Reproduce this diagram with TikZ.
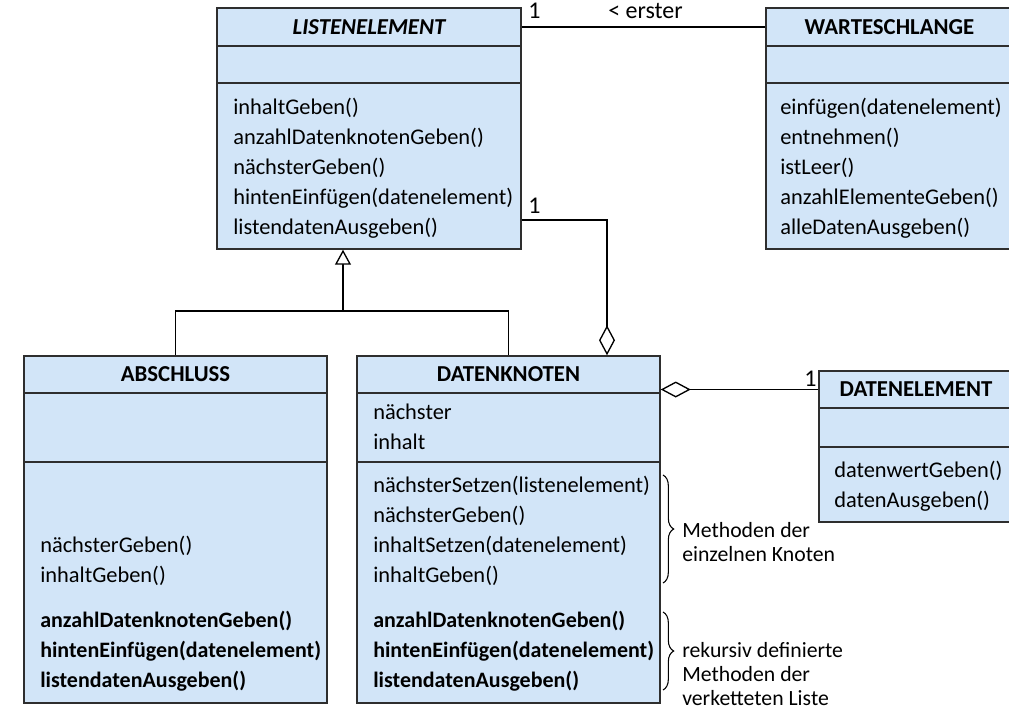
\documentclass[tikz,border=0pt]{standalone}
\usepackage{fontspec}
\setmainfont{Carlito}
\usetikzlibrary{arrows.meta,fit,decorations.pathreplacing}

% One UML class: name, left, right, top, first rule, second rule, bottom, title
\newcommand{\umlKlasse}[8]{%
  \node[classpart, fit={(#2,#4) (#3,#5)}] (#1-head) {};
  \node[classpart, fit={(#2,#5) (#3,#6)}] (#1-attr) {};
  \node[classpart, fit={(#2,#6) (#3,#7)}] (#1-meth) {};
  \node[classtitle] (#1-title) at (#1-head.center) {#8};
}

\begin{document}
\begin{tikzpicture}[x=0.75pt,y=-0.75pt,font=\fontsize{16.8}{22}\selectfont]

\definecolor{umlfill}{HTML}{D2E5F8}
\definecolor{umlline}{HTML}{2E2E2E}

\tikzset{
  classpart/.style={
    draw=umlline, fill=umlfill, line width=1.1pt, inner sep=0pt
  },
  classtitle/.style={font=\fontsize{17.1}{22}\selectfont\bfseries, inner sep=0pt},
  member/.style={anchor=base west, inner sep=0pt},
  boldmember/.style={member, font=\fontsize{16.5}{22}\selectfont\bfseries},
  notetext/.style={member, font=\fontsize{16.3}{22}\selectfont},
  multiplicity/.style={member, font=\fontsize{18}{22}\selectfont},
  assoc/.style={draw=black, line width=1pt},
  aggregation/.style={
    assoc, {Diamond[open, fill=white, length=22.5pt, width=12pt]}-
  },
  generalization/.style={
    assoc, -{Triangle[open, fill=white, length=11.25pt, width=12pt]}
  },
  klammer/.style={
    draw=black, line width=0.8pt, decorate,
    decoration={brace, amplitude=8pt}
  }
}

\useasboundingbox (0,0) rectangle (1009,711);

% Classes.
\umlKlasse{listenel}{217}{521}{8}{46}{83}{249}{\itshape LISTENELEMENT}
\umlKlasse{schlange}{766}{1013}{8}{46}{83}{249}{WARTESCHLANGE}
\umlKlasse{abschluss}{24}{327}{356}{393}{462}{703}{ABSCHLUSS}
\umlKlasse{knoten}{357}{660}{356}{393}{462}{703}{DATENKNOTEN}
\umlKlasse{datenel}{819}{1013}{371}{408}{447}{522}{DATENELEMENT}

% Members of LISTENELEMENT.
\foreach \y/\t [count=\i] in {114/inhaltGeben(), 144/anzahlDatenknotenGeben(),
  174/nächsterGeben(), 204/hintenEinfügen(datenelement),
  234/listendatenAusgeben()}
  \node[member] (listenel-m\i) at (233,\y) {\t};

% Members of WARTESCHLANGE.
\foreach \y/\t [count=\i] in {114/einfügen(datenelement), 144/entnehmen(),
  174/istLeer(), 204/anzahlElementeGeben(), 234/alleDatenAusgeben()}
  \node[member] (schlange-m\i) at (780,\y) {\t};

% Members of ABSCHLUSS.
\foreach \y/\t [count=\i] in {552/nächsterGeben(), 582/inhaltGeben()}
  \node[member] (abschluss-m\i) at (40,\y) {\t};
\foreach \y/\t [count=\i] in {627/anzahlDatenknotenGeben(),
  657/hintenEinfügen(datenelement), 687/listendatenAusgeben()}
  \node[boldmember] (abschluss-r\i) at (40,\y) {\t};

% Members of DATENKNOTEN.
\foreach \y/\t [count=\i] in {419/nächster, 449/inhalt}
  \node[member] (knoten-a\i) at (373,\y) {\t};
\foreach \y/\t [count=\i] in {492/nächsterSetzen(listenelement),
  522/nächsterGeben(), 552/inhaltSetzen(datenelement), 582/inhaltGeben()}
  \node[member] (knoten-m\i) at (373,\y) {\t};
\foreach \y/\t [count=\i] in {627/anzahlDatenknotenGeben(),
  657/hintenEinfügen(datenelement), 687/listendatenAusgeben()}
  \node[boldmember] (knoten-r\i) at (373,\y) {\t};

% Members of DATENELEMENT.
\foreach \y/\t [count=\i] in {477/datenwertGeben(), 507/datenAusgeben()}
  \node[member] (datenel-m\i) at (834,\y) {\t};

% Associations.
\draw[assoc] (listenel-head.east) -- (schlange-head.west);
\node[multiplicity] (erster-eins) at (528,18) {1};
\node[multiplicity] (erster-name) at (608,18) {< erster};

\draw[aggregation] (knoten-head.north -| 607,0) -- (607,220)
  -- (listenel-meth.east |- 0,220);
\node[multiplicity] (naechster-eins) at (528,213) {1};

\draw[aggregation] (datenel-head.west -| knoten-head.east)
  -- (datenel-head.west);
\node[multiplicity] (inhalt-eins) at (804,386) {1};

% Inheritance.
\coordinate (gen-mitte) at (343,311);
\draw[assoc] (abschluss-head.north) |- (gen-mitte) -| (knoten-head.north);
\draw[generalization] (gen-mitte) -- (listenel-meth.south -| gen-mitte);

% Notes.
\draw[klammer] (663,475) -- (663,583);
\draw[klammer] (663,612) -- (663,690);
\foreach \y/\t [count=\i] in {537/Methoden der, 561/einzelnen Knoten}
  \node[notetext] (notiz-a\i) at (682,\y) {\t};
\foreach \y/\t [count=\i] in {657/rekursiv definierte, 681/Methoden der,
  705/verketteten Liste}
  \node[notetext] (notiz-b\i) at (682,\y) {\t};

\end{tikzpicture}
\end{document}
